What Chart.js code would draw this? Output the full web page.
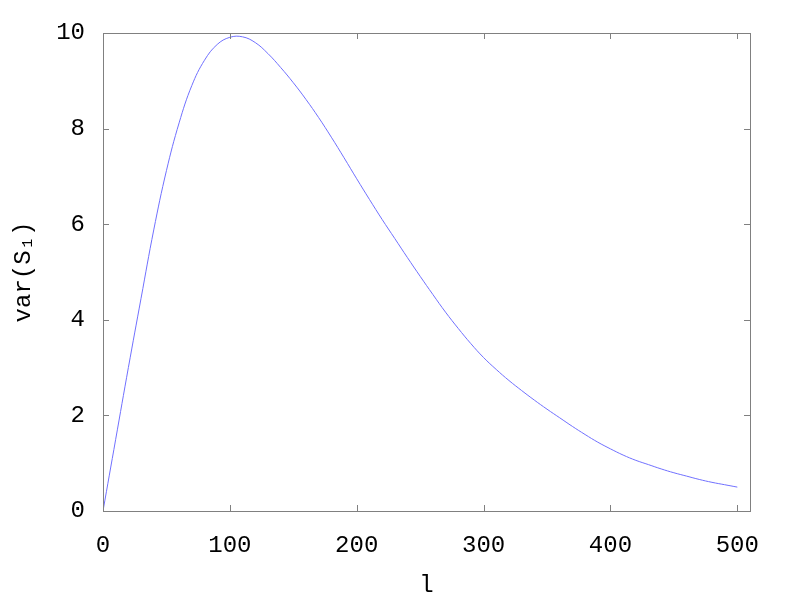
<!DOCTYPE html>
<html>
<head>
<meta charset="utf-8">
<script src="https://cdn.jsdelivr.net/npm/chart.js@4.4.1/dist/chart.umd.min.js"></script>
<style>
    html, body { margin: 0; padding: 0; background: #fff; }
    #wrap { width: 800px; height: 600px; }
</style>
</head>
<body>
<div id="wrap"><canvas id="varChart" width="800" height="600"></canvas></div>
<script>
// values
const lValues = [0, 10, 20, 30, 40, 50, 60, 70, 80, 90, 100, 110, 120, 130, 140, 150, 160, 170, 180, 190, 200,
    210, 220, 230, 240, 250, 260, 270, 280, 290, 300, 310, 320, 330, 340, 350, 360, 370, 380, 390, 400,
    410, 420, 430, 440, 450, 460, 470, 480, 490, 500];
const varValues = [0, 1.5, 3.0, 4.45, 5.88, 7.12, 8.12, 8.9, 9.43, 9.76, 9.91, 9.92, 9.8, 9.57, 9.28, 8.96, 8.61, 8.23, 7.82, 7.39, 6.95,
    6.52, 6.1, 5.7, 5.3, 4.91, 4.53, 4.16, 3.82, 3.5, 3.21, 2.96, 2.73, 2.52, 2.32, 2.13, 1.95, 1.77, 1.6, 1.44, 1.3,
    1.17, 1.06, 0.97, 0.88, 0.8, 0.73, 0.66, 0.6, 0.55, 0.5];
const xTicks = [0, 100, 200, 300, 400, 500];
const yTicks = [0, 2, 4, 6, 8, 10];

const points = lValues.map((l, i) => ({ x: l, y: varValues[i] }));
const monoFont = "'Liberation Mono', 'DejaVu Sans Mono', monospace";

// gnuplot style frame with inward ticks on all four sides
const framePlugin = {
    id: 'frame',
    afterDraw(chart) {
        const ctx = chart.ctx;
        const a = chart.chartArea;
        const xs = chart.scales.x;
        const ys = chart.scales.y;
        const len = 6;
        ctx.save();
        ctx.lineWidth = 1;
        ctx.strokeStyle = '#808080';
        ctx.strokeRect(Math.round(a.left) + 0.5, Math.round(a.top) + 0.5,
            Math.round(a.right - a.left), Math.round(a.bottom - a.top));
        ctx.beginPath();
        xTicks.forEach(v => {
            const px = Math.round(xs.getPixelForValue(v)) + 0.5;
            ctx.moveTo(px, a.bottom); ctx.lineTo(px, a.bottom - len);
            ctx.moveTo(px, a.top); ctx.lineTo(px, a.top + len);
        });
        yTicks.forEach(v => {
            const py = Math.round(ys.getPixelForValue(v)) + 0.5;
            ctx.moveTo(a.left, py); ctx.lineTo(a.left + len, py);
            ctx.moveTo(a.right, py); ctx.lineTo(a.right - len, py);
        });
        ctx.stroke();
        ctx.restore();
    }
};

const ctx = document.getElementById('varChart').getContext('2d');
new Chart(ctx, {
    type: 'line',
    data: {
        datasets: [{
            data: points,
            borderColor: '#7070ff',
            borderWidth: 1,
            pointRadius: 0,
            fill: false,
            tension: 0.4
        }]
    },
    options: {
        responsive: false,
        animation: false,
        layout: { padding: { top: 33, right: 50, left: 0, bottom: 0 } },
        plugins: {
            legend: { display: false },
            tooltip: { enabled: false }
        },
        scales: {
            x: {
                type: 'linear',
                min: 0,
                max: 510,
                afterBuildTicks: s => { s.ticks = xTicks.map(v => ({ value: v })); },
                afterFit: s => { s.height = 89; },
                grid: { display: false, drawTicks: false },
                border: { display: false },
                ticks: {
                    color: '#000',
                    padding: 20,
                    font: { family: monoFont, size: 24 }
                },
                title: {
                    display: true,
                    text: 'l',
                    color: '#000',
                    padding: { top: 14, bottom: 0 },
                    font: { family: monoFont, size: 24 }
                }
            },
            y: {
                type: 'linear',
                min: 0,
                max: 10,
                afterBuildTicks: s => { s.ticks = yTicks.map(v => ({ value: v })); },
                afterFit: s => { s.width = 103; },
                grid: { display: false, drawTicks: false },
                border: { display: false },
                ticks: {
                    color: '#000',
                    padding: 18,
                    font: { family: monoFont, size: 24 }
                },
                title: {
                    display: true,
                    text: 'var(S₁)',
                    color: '#000',
                    padding: { top: 9, bottom: 10 },
                    font: { family: monoFont, size: 24 }
                }
            }
        }
    },
    plugins: [framePlugin]
});
</script>
</body>
</html>
